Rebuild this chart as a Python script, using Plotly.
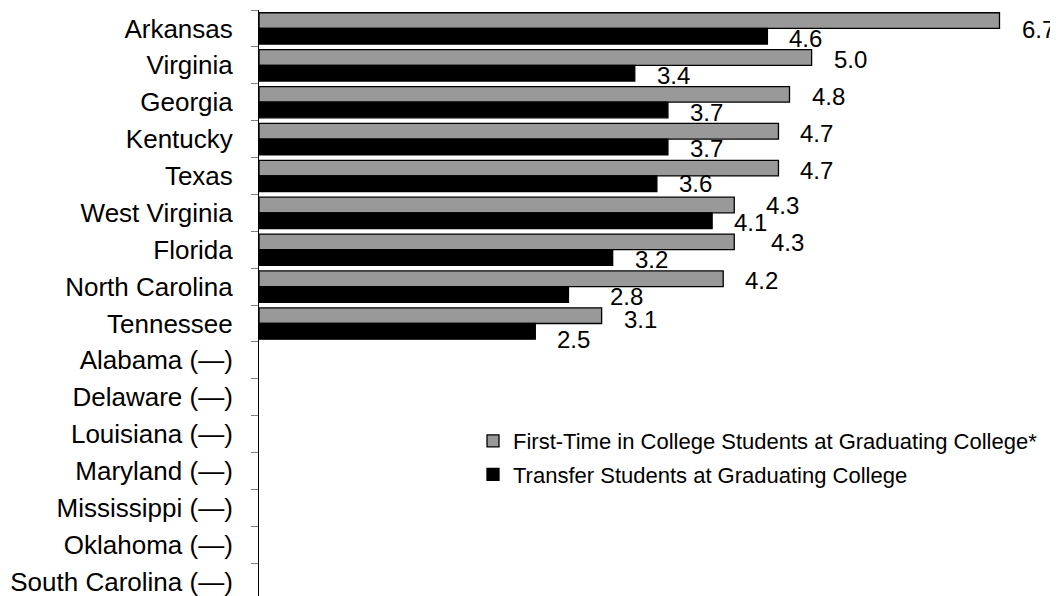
import plotly.graph_objects as go

states = ["Arkansas", "Virginia", "Georgia", "Kentucky", "Texas", "West Virginia",
          "Florida", "North Carolina", "Tennessee", "Alabama (—)", "Delaware (—)",
          "Louisiana (—)", "Maryland (—)", "Mississippi (—)", "Oklahoma (—)",
          "South Carolina (—)"]
first_time = [6.7, 5.0, 4.8, 4.7, 4.7, 4.3, 4.3, 4.2, 3.1,
              None, None, None, None, None, None, None]
transfer = [4.6, 3.4, 3.7, 3.7, 3.6, 4.1, 3.2, 2.8, 2.5,
            None, None, None, None, None, None, None]
series_names = ["First-Time in College Students at Graduating College*",
                "Transfer Students at Graduating College"]

# small pixel nudges for value labels that sit off the usual spot
label_nudges = {
    (0, 0): (0, 7), (5, 0): (10, -2), (6, 0): (15, -1),
    (7, 1): (20, 0), (8, 0): (0, 2), (8, 1): (0, 6), (4, 1): (0, -2),
}

FONT = "Liberation Sans, Arial, sans-serif"
BODY = 8  # default page margin around the plot div
W, H = 1058 - BODY, 596 - BODY
ML, MT = 259 - BODY, 10 - BODY
px_per_unit = (1000 - 259.5) / 6.7
xmax = (W - ML) / px_per_unit
n = len(states)
cat_px = 36.88
plot_h = H - MT
ybottom = plot_h / cat_px - 0.5

bargap = 0.15
bw = (1 - bargap) / 2

fig = go.Figure()
fig.add_trace(go.Bar(
    y=states, x=first_time, orientation="h", name=series_names[0],
    marker=dict(color="#999999", line=dict(color="black", width=1.3)),
    legendgroup="a",
))
fig.add_trace(go.Bar(
    y=states, x=transfer, orientation="h", name=series_names[1],
    marker=dict(color="black", line=dict(color="black", width=1.3)),
    legendgroup="b",
))

annotations = []
for s, vals in enumerate([first_time, transfer]):
    offset = -bw / 2 if s == 0 else bw / 2
    for i, v in enumerate(vals):
        if v is None:
            continue
        dx, dy = label_nudges.get((i, s), (0, 0))
        annotations.append(dict(
            x=v, y=i + offset, xref="x", yref="y", text=f"{v:.1f}",
            showarrow=False, xanchor="left", yanchor="middle",
            xshift=20 + dx, yshift=-2 - dy,
            font=dict(family=FONT, size=24, color="black"),
        ))

fig.update_layout(
    width=W, height=H,
    margin=dict(l=ML, r=0, t=MT, b=0, pad=0),
    paper_bgcolor="white", plot_bgcolor="white",
    barmode="group", bargap=bargap, bargroupgap=0,
    font=dict(family=FONT, size=24, color="black"),
    showlegend=True,
    legend=dict(
        x=(473 - 259) / (W - ML), xanchor="left",
        y=(596 - 420) / plot_h, yanchor="top",
        font=dict(family=FONT, size=22, color="black"),
        bgcolor="rgba(0,0,0,0)", tracegroupgap=2,
        traceorder="grouped",
    ),
    annotations=annotations,
)
fig.update_xaxes(range=[0, xmax], showgrid=False, zeroline=False,
                 showticklabels=False, ticks="", showline=False,
                 automargin=False)
fig.update_yaxes(
    type="category", categoryorder="array", categoryarray=states,
    range=[ybottom, -0.5],
    tickson="boundaries", ticks="outside", ticklen=7,
    tickcolor="#808080", tickwidth=1, showline=True, linecolor="black",
    linewidth=1, showgrid=False, zeroline=False, automargin=False,
    tickfont=dict(family=FONT, size=26, color="black"),
    ticklabelstandoff=20, ticklabeloverflow="allow",
)

fig.write_html("out.html")
